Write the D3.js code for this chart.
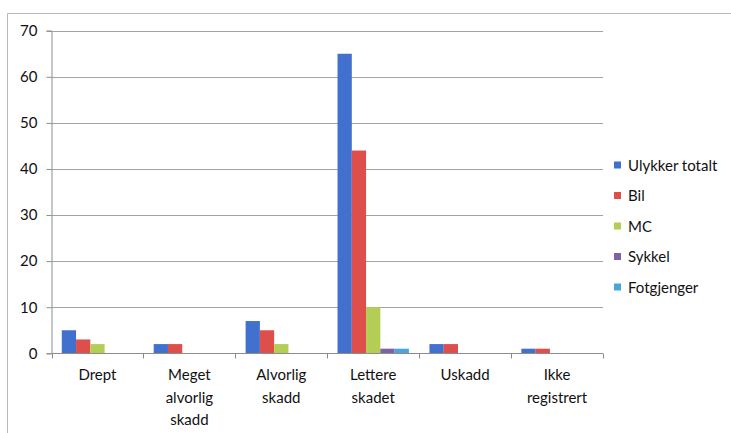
<!DOCTYPE html>
<html>
<head>
<meta charset="utf-8">
<script src="https://cdn.jsdelivr.net/npm/d3@7/dist/d3.min.js"></script>
<style>
  html, body { margin: 0; padding: 0; background: #fff; }
  svg { display: block; }
  text { font-family: Lato, "Open Sans", sans-serif; fill: #111; }
</style>
</head>
<body>
<svg id="chart" width="731" height="433"></svg>
<script>
// Categories (injury severity) with line-broken labels
const categories = ["Drept", "Meget alvorlig skadd", "Alvorlig skadd", "Lettere skadet", "Uskadd", "Ikke registrert"];
const categoryLines = [["Drept"], ["Meget", "alvorlig", "skadd"], ["Alvorlig", "skadd"], ["Lettere", "skadet"], ["Uskadd"], ["Ikke", "registrert"]];

// Series
const seriesNames = ["Ulykker totalt", "Bil", "MC", "Sykkel", "Fotgjenger"];
const seriesColors = ["#4170cf", "#de4f4b", "#b4cd55", "#7f62a6", "#4aa5dd"];
const ulykkerTotalt = [5, 2, 7, 65, 2, 1];
const bil = [3, 2, 5, 44, 2, 1];
const mc = [2, 0, 2, 10, 0, 0];
const sykkel = [0, 0, 0, 1, 0, 0];
const fotgjenger = [0, 0, 0, 1, 0, 0];
const seriesValues = [ulykkerTotalt, bil, mc, sykkel, fotgjenger];

const yTicks = [0, 10, 20, 30, 40, 50, 60, 70];

const svg = d3.select("#chart");

// Outer frame (top and left edges visible)
svg.append("path")
  .attr("d", "M7.5,433 L7.5,13.5 L731,13.5")
  .attr("fill", "none")
  .attr("stroke", "#b8b8b8")
  .attr("stroke-width", 1);

const plot = { left: 51.5, right: 603, top: 30.7, bottom: 353.3 };

const y = d3.scaleLinear().domain([0, 70]).range([plot.bottom, plot.top]);
const x0 = d3.scaleBand().domain(categories).range([plot.left, plot.right]).padding(0);
const x1 = d3.scaleBand().domain(seriesNames).range([0, x0.bandwidth()]).paddingInner(0).paddingOuter(0.72);

// Horizontal gridlines
svg.append("g")
  .selectAll("line")
  .data(yTicks.filter(d => d > 0))
  .join("line")
  .attr("x1", plot.left)
  .attr("x2", plot.right)
  .attr("y1", d => Math.round(y(d)) + 0.5)
  .attr("y2", d => Math.round(y(d)) + 0.5)
  .attr("stroke", "#a3a3a3")
  .attr("stroke-width", 1);

// Y axis
const yAxis = d3.axisLeft(y).tickValues(yTicks).tickSize(5).tickPadding(9);
const gy = svg.append("g")
  .attr("transform", `translate(${plot.left},0)`)
  .call(yAxis);
gy.select(".domain").attr("stroke", "#8c8c8c");
gy.selectAll(".tick line").attr("stroke", "#8c8c8c");
gy.selectAll(".tick text")
  .attr("font-family", "Lato, 'Open Sans', sans-serif")
  .attr("font-size", 15)
  .attr("fill", "#111");

// Bars
const groups = svg.append("g")
  .selectAll("g")
  .data(categories)
  .join("g")
  .attr("transform", d => `translate(${x0(d)},0)`);

groups.selectAll("rect")
  .data((c, i) => seriesNames.map((s, k) => ({ s, v: seriesValues[k][i], color: seriesColors[k] })))
  .join("rect")
  .attr("x", d => x1(d.s))
  .attr("width", x1.bandwidth())
  .attr("y", d => y(d.v))
  .attr("height", d => y(0) - y(d.v))
  .attr("fill", d => d.color);

// X axis line with category boundary ticks
const bounds = categories.map(c => x0(c)).concat([plot.right]);
const gx = svg.append("g");
gx.append("line")
  .attr("x1", plot.left).attr("x2", plot.right)
  .attr("y1", Math.round(plot.bottom) + 0.5).attr("y2", Math.round(plot.bottom) + 0.5)
  .attr("stroke", "#8c8c8c");
gx.selectAll("line.tick")
  .data(bounds)
  .join("line")
  .attr("class", "tick")
  .attr("x1", d => Math.round(d) + 0.5).attr("x2", d => Math.round(d) + 0.5)
  .attr("y1", Math.round(plot.bottom) + 0.5).attr("y2", Math.round(plot.bottom) + 5.5)
  .attr("stroke", "#8c8c8c");

// Category labels
const labels = svg.append("g")
  .selectAll("text")
  .data(categories)
  .join("text")
  .attr("text-anchor", "middle")
  .attr("font-size", 15)
  .attr("transform", d => `translate(${x0(d) + x0.bandwidth() / 2},380)`);
labels.each(function(d, i) {
  d3.select(this).selectAll("tspan")
    .data(categoryLines[i])
    .join("tspan")
    .attr("x", 0)
    .attr("y", (t, j) => j * 22.5)
    .text(t => t);
});

// Legend
const legend = svg.append("g")
  .selectAll("g")
  .data(seriesNames)
  .join("g")
  .attr("transform", (d, i) => `translate(614,${165 + i * 30.5})`);
legend.append("rect")
  .attr("x", 0).attr("y", -3.5)
  .attr("width", 7).attr("height", 7)
  .attr("fill", (d, i) => seriesColors[i]);
legend.append("text")
  .attr("x", 14)
  .attr("y", 5.5)
  .attr("font-size", 15)
  .text(d => d);
</script>
</body>
</html>
